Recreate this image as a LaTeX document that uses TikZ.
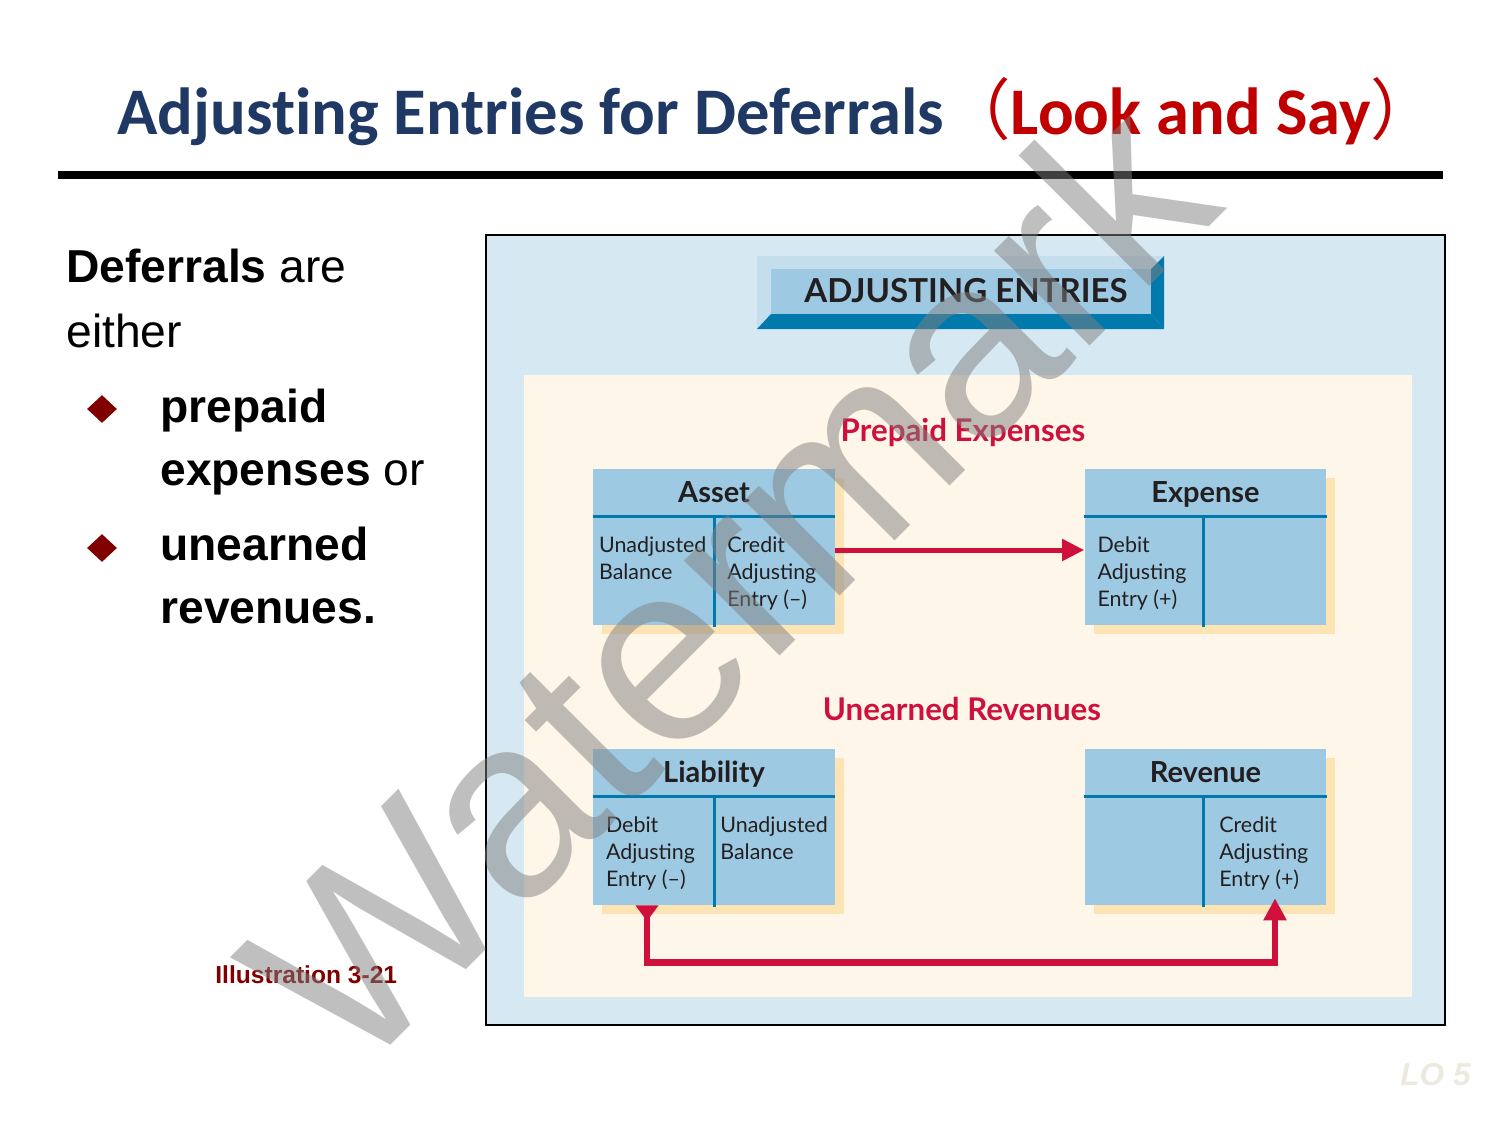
\documentclass[tikz,border=0pt]{standalone}
\usepackage{fontspec}
\usetikzlibrary{arrows.meta,shapes.geometric,shadows,calc}
\setmainfont{Liberation Sans}
\newfontfamily\calfont[Ligatures=NoCommon]{Carlito}
\newfontfamily\gillfont[Ligatures=TeX]{Lato}
\newfontfamily\cjkfont{Noto Sans CJK SC}
\definecolor{titleblue}{RGB}{31,56,100}
\definecolor{titlered}{RGB}{192,0,0}
\definecolor{panelblue}{RGB}{214,232,242}
\definecolor{cream}{RGB}{254,246,232}
\definecolor{tfill}{RGB}{157,201,226}
\definecolor{tline}{RGB}{0,121,173}
\definecolor{tshadow}{RGB}{253,228,181}
\definecolor{bevellight}{RGB}{196,222,237}
\definecolor{crimson}{RGB}{208,16,60}
\definecolor{ink}{RGB}{35,31,32}
\definecolor{darkred}{RGB}{128,0,0}
\definecolor{logray}{RGB}{236,233,222}

\begin{document}
\begin{tikzpicture}[x=0.02cm,y=-0.02cm,
  tacct/.style={rectangle,fill=tfill,minimum width=4.84cm,minimum height=3.12cm,inner sep=0,
    drop shadow={shadow xshift=0.18cm,shadow yshift=-0.18cm,fill=tshadow,opacity=1}},
  tdivide/.style={tline,line width=0.06cm},
  thead/.style={font=\gillfont\bfseries\fontsize{16.5}{18}\selectfont,text=ink,inner sep=0,anchor=base},
  tbody/.style={font=\gillfont\fontsize{12.2}{15.3}\selectfont,text=ink,inner sep=0,align=left,anchor=north west},
  sect/.style={font=\gillfont\bfseries\fontsize{17.8}{19}\selectfont,text=crimson,inner sep=0,anchor=base},
  bul/.style={font=\fontsize{26.3}{30}\selectfont,inner sep=0,anchor=base west},
  arr/.style={crimson,line width=0.1cm,-{Triangle[length=0.44cm,width=0.42cm]}}]
\useasboundingbox (0,0) rectangle (1500,1125);

\path (117,135) node[anchor=base west,inner sep=0,font=\calfont\bfseries\fontsize{37.9}{40}\selectfont] (title)
  {\textcolor{titleblue}{Adjusting Entries for Deferrals}\textcolor{titlered}{{\cjkfont\mdseries （}Look and Say{\cjkfont\mdseries ）}}};
\draw[line width=0.16cm] (58,175) -- (1443,175);

\path (66,282) node[bul] (intro1) {\textbf{Deferrals} are};
\path (66,347) node[bul] (intro2) {either};
\path (102,409) node[diamond,fill=darkred,minimum width=0.6cm,minimum height=0.56cm,inner sep=0] (dot1) {};
\path (160,422) node[bul] (prep1) {\textbf{prepaid}};
\path (160,485) node[bul] (prep2) {\textbf{expenses} or};
\path (102,548) node[diamond,fill=darkred,minimum width=0.6cm,minimum height=0.56cm,inner sep=0] (dot2) {};
\path (160,560) node[bul] (unearn1) {\textbf{unearned}};
\path (160,623) node[bul] (unearn2) {\textbf{revenues.}};
\path (215,983) node[anchor=base west,inner sep=0,text=darkred,font=\bfseries\fontsize{14}{16}\selectfont] (illus) {Illustration 3-21};
\path (1400,1085) node[anchor=base west,inner sep=0,text=logray,font=\bfseries\itshape\fontsize{18}{20}\selectfont] (lo) {LO 5};

\path[draw=black,line width=0.04cm,fill=panelblue] (486,235) rectangle (1445,1025);
\fill[cream] (524,375) rectangle (1412,997);

\fill[bevellight] (757,256) -- (1164,256) -- (1151,269) -- (771,269) -- cycle;
\fill[bevellight] (757,256) -- (771,269) -- (771,314) -- (757,329) -- cycle;
\fill[tline] (757,329) -- (771,314) -- (1151,314) -- (1164,329) -- cycle;
\fill[tline] (1164,256) -- (1151,269) -- (1151,314) -- (1164,329) -- cycle;
\fill[tfill] (771,269) rectangle (1151,314);
\path (966,302) node[anchor=base,inner sep=0,text=ink,font=\gillfont\bfseries\fontsize{18.8}{20}\selectfont] (banner) {ADJUSTING ENTRIES};

\path (963,441) node[sect] (prepaid) {Prepaid Expenses};
\path (962,720) node[sect] (unearned) {Unearned Revenues};

\path (714,547) node[tacct] (asset) {};
\path (1205.5,547) node[tacct] (expense) {};
\path (714,827) node[tacct] (liab) {};
\path (1205.5,827) node[tacct] (rev) {};

\draw[tdivide] ([yshift=-0.96cm]asset.north west) -- ([yshift=-0.96cm]asset.north east);
\draw[tdivide] ([yshift=-0.96cm]asset.north) -- ([yshift=-0.04cm]asset.south);
\draw[tdivide] ([yshift=-0.96cm]expense.north west) -- ([yshift=-0.96cm]expense.north east);
\draw[tdivide] ([xshift=-0.05cm,yshift=-0.96cm]expense.north) -- ([xshift=-0.05cm,yshift=-0.04cm]expense.south);
\draw[tdivide] ([yshift=-0.96cm]liab.north west) -- ([yshift=-0.96cm]liab.north east);
\draw[tdivide] ([yshift=-0.96cm]liab.north) -- ([yshift=-0.04cm]liab.south);
\draw[tdivide] ([yshift=-0.96cm]rev.north west) -- ([yshift=-0.96cm]rev.north east);
\draw[tdivide] ([xshift=-0.05cm,yshift=-0.96cm]rev.north) -- ([xshift=-0.05cm,yshift=-0.04cm]rev.south);

\path ([yshift=-0.68cm]asset.north) node[thead] (assethead) {Asset};
\path ([yshift=-0.68cm]expense.north) node[thead] (expensehead) {Expense};
\path ([yshift=-0.68cm]liab.north) node[thead] (liabhead) {Liability};
\path ([yshift=-0.68cm]rev.north) node[thead] (revhead) {Revenue};

\path ([xshift=0.12cm,yshift=-1.36cm]asset.north west) node[tbody] (assetl) {Unadjusted\\Balance};
\path ([xshift=0.26cm,yshift=-1.36cm]asset.north) node[tbody] (assetr) {Credit\\Adjusting\\Entry (–)};
\path ([xshift=0.26cm,yshift=-1.36cm]expense.north west) node[tbody] (expensel) {Debit\\Adjusting\\Entry (+)};
\path ([xshift=0.26cm,yshift=-1.36cm]liab.north west) node[tbody] (liabl) {Debit\\Adjusting\\Entry (–)};
\path ([xshift=0.12cm,yshift=-1.36cm]liab.north) node[tbody] (liabr) {Unadjusted\\Balance};
\path ([xshift=0.27cm,yshift=-1.36cm]rev.north) node[tbody] (revr) {Credit\\Adjusting\\Entry (+)};

\draw[arr] ([yshift=-0.06cm]asset.east) -- ([yshift=-0.06cm]expense.west);
\draw[arr,line width=0.13cm,{Triangle[reversed,length=0.32cm,width=0.44cm]}-{Triangle[length=0.44cm,width=0.44cm]}]
  ($(liab.south)+(-67,0)$) -- ++(0,57) -| ($(rev.south)+(69.5,-7)$);

\path (791,645) node[rotate=45,anchor=base,inner sep=0,text=black!50,opacity=0.5,font=\fontsize{145}{150}\selectfont] (wmark) {Watermark};
\end{tikzpicture}
\end{document}
